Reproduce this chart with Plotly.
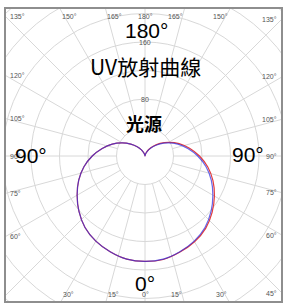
import numpy as np
import plotly.graph_objects as go

# ---- data ----
angles = [-180, -170, -160, -150, -140, -130, -120, -110, -100, -90, -80, -70, -60, -50, -40, -30, -20, -10,
          0, 10, 20, 30, 40, 50, 60, 70, 80, 90, 100, 110, 120, 130, 140, 150, 160, 170, 180]
blue_cd = [0, 1.2, 4.5, 10, 17, 26, 37, 49, 61, 74, 87, 99, 110, 121, 131, 138, 143, 147,
           148, 147, 143, 138, 131, 121, 110, 99, 87, 74, 61, 49, 37, 26, 17, 10, 4.5, 1.2, 0]
red_cd = [0, 1.2, 4.5, 10, 17, 26, 37, 49, 61, 74, 87, 99, 110, 121, 131, 138, 143, 147,
          148, 147.5, 143.5, 139, 132.5, 123, 112.5, 101.5, 89.5, 76.5, 63.5, 51, 38.5, 27.5, 18, 10.5, 4.8, 1.3, 0]
grid_radii = [40, 80, 120, 160, 200, 240, 280]
radial_labels = [80, 160]
angle_ticks = list(range(-180, 180, 15))

title_text = "UV放射曲線"
subtitle_text = "光源"

# ---- layout geometry (pixels) ----
W, H = 285, 304
PX0, PX1, PY0, PY1 = 5, 282, 8, 302      # plot frame
CX, CY = 145, 156                         # polar centre
K = 0.7125                                # px per cd unit

xr = [(PX0 - CX) / K, (PX1 - CX) / K]
yr = [(CY - PY1) / K, (CY - PY0) / K]


def to_xy(theta_deg, r):
    t = np.radians(np.asarray(theta_deg, dtype=float))
    r = np.asarray(r, dtype=float)
    return r * np.sin(t), -r * np.cos(t)


def paper(px, py):
    return (px - PX0) / (PX1 - PX0), (PY1 - py) / (PY1 - PY0)


fig = go.Figure()

# grid circles
shapes = []
for r in grid_radii:
    shapes.append(dict(type="circle", xref="x", yref="y", x0=-r, y0=-r, x1=r, y1=r,
                       line=dict(color="#d8d8d8", width=1), layer="below"))
# radial lines
for a in angle_ticks:
    x0, y0 = to_xy(a, 40)
    x1, y1 = to_xy(a, 420)
    shapes.append(dict(type="line", xref="x", yref="y", x0=float(x0), y0=float(y0), x1=float(x1), y1=float(y1),
                       line=dict(color="#d8d8d8", width=1), layer="below"))
# frame
shapes.append(dict(type="rect", xref="paper", yref="paper", x0=0, y0=0, x1=1, y1=1,
                   line=dict(color="#8e8e8e", width=2)))

# curves
rx, ry = to_xy(angles, red_cd)
bx, by = to_xy(angles, blue_cd)
fig.add_trace(go.Scatter(x=rx, y=ry, mode="lines", line=dict(color="rgb(228,60,60)", width=1.2, shape="spline"),
                         hoverinfo="skip", showlegend=False))
fig.add_trace(go.Scatter(x=bx, y=by, mode="lines", line=dict(color="rgba(45,45,225,0.72)", width=1.2, shape="spline"),
                         hoverinfo="skip", showlegend=False))

ann = []
small = dict(family="Liberation Sans, Arial", size=7, color="#555555")
# angle labels at frame edges
for a in angle_ticks:
    dx, dy = np.sin(np.radians(a)), -np.cos(np.radians(a))
    ts = []
    if dx < -1e-9:
        ts.append((xr[0] / dx, "left"))
    if dx > 1e-9:
        ts.append((xr[1] / dx, "right"))
    if dy > 1e-9:
        ts.append((yr[1] / dy, "top"))
    if dy < -1e-9:
        ts.append((yr[0] / dy, "bottom"))
    t, edge = min(ts, key=lambda z: z[0])
    xi, yi = t * dx, t * dy
    d = dict(x=xi, y=yi, xref="x", yref="y", text=f"{abs(a)}°", showarrow=False, font=small)
    if edge == "left":
        d.update(xanchor="left", yanchor="middle", xshift=3)
    elif edge == "right":
        d.update(xanchor="right", yanchor="middle", xshift=-3)
    elif edge == "top":
        d.update(yanchor="top", yshift=-3,
                 xanchor="center" if abs(xi) < 1 else ("left" if xi < 0 else "right"))
    else:
        d.update(yanchor="bottom", yshift=2,
                 xanchor="center" if abs(xi) < 1 else ("left" if xi < 0 else "right"))
    ann.append(d)

# radial labels
for r in radial_labels:
    ann.append(dict(x=0, y=r, xref="x", yref="y", text=str(r), showarrow=False, font=small,
                    xanchor="center", yanchor="middle"))

big = dict(family="Liberation Sans, Arial", size=21, color="#000000")
cjk = dict(family="Noto Sans CJK TC, Noto Sans CJK SC", size=21, color="#000000")


def add_text(txt, px, py, font):
    x, y = paper(px, py)
    ann.append(dict(x=x, y=y, xref="paper", yref="paper", text=txt, showarrow=False, font=font,
                    xanchor="center", yanchor="middle"))


add_text("180°", 146, 31, big)
add_text("90°", 31, 155, big)
add_text("90°", 248, 154, big)
add_text("0°", 145, 283, big)
add_text(title_text, 145, 66, cjk)
add_text("<b>" + subtitle_text + "</b>", 144, 123, dict(cjk, size=18))

fig.update_layout(
    width=W, height=H,
    margin=dict(l=PX0, r=W - PX1, t=PY0, b=H - PY1),
    paper_bgcolor="white", plot_bgcolor="white",
    xaxis=dict(range=xr, visible=False, fixedrange=True),
    yaxis=dict(range=yr, visible=False, fixedrange=True),
    shapes=shapes, annotations=ann, showlegend=False,
)
fig.write_html("out.html", config={"displayModeBar": False},
               post_script="document.body.style.margin='0px';document.body.style.overflow='hidden';")
